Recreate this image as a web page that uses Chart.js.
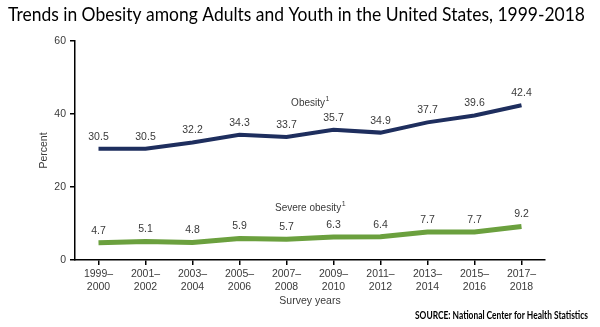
<!DOCTYPE html>
<html>
<head>
<meta charset="utf-8">
<script src="https://cdn.jsdelivr.net/npm/chart.js@4.4.1/dist/chart.umd.min.js"></script>
<style>
  html, body { margin: 0; padding: 0; background: #fff; }
  #wrap { width: 600px; height: 327px; position: relative; }
</style>
</head>
<body>
<div id="wrap"><canvas id="obesityChart" width="600" height="327"></canvas></div>
<script>
const surveyYears = [
    ['1999–', '2000'], ['2001–', '2002'], ['2003–', '2004'], ['2005–', '2006'], ['2007–', '2008'],
    ['2009–', '2010'], ['2011–', '2012'], ['2013–', '2014'], ['2015–', '2016'], ['2017–', '2018']
];
const obesity = [30.5, 30.5, 32.2, 34.3, 33.7, 35.7, 34.9, 37.7, 39.6, 42.4];
const severeObesity = [4.7, 5.1, 4.8, 5.9, 5.7, 6.3, 6.4, 7.7, 7.7, 9.2];
const yTicks = [0, 20, 40, 60];

const titleText = 'Trends in Obesity among Adults and Youth in the United States, 1999-2018';
const sourceText = 'SOURCE: National Center for Health Statistics';
const seriesNames = [
    { text: 'Obesity', note: '1', between: [4, 5], value: 43.0 },
    { text: 'Severe obesity', note: '1', between: [4, 5], value: 14.2 }
];

const NAVY = '#1e2e5e';
const GREEN = '#6ba03e';
const LABEL = '#3a3a3a';
const ARIAL = '"Liberation Sans", Arial, sans-serif';
const HEAD = 'Lato, "Open Sans", sans-serif';

// squeeze a line of text horizontally so it spans the given width
function drawSqueezed(ctx, text, x, y, width, align) {
    const w = ctx.measureText(text).width;
    const k = Math.min(1, width / w);
    ctx.save();
    ctx.textAlign = 'left';
    const left = align === 'right' ? x - w * k : x;
    ctx.translate(left, y);
    ctx.scale(k, 1);
    ctx.fillText(text, 0, 0);
    ctx.restore();
}

// value labels, series names, title and source line
const annotations = {
    id: 'annotations',
    afterDraw: function (chart) {
        const ctx = chart.ctx;
        const x = chart.scales.x;
        const y = chart.scales.y;
        ctx.save();

        ctx.fillStyle = LABEL;
        ctx.font = '10.5px ' + ARIAL;
        ctx.textAlign = 'center';
        ctx.textBaseline = 'middle';
        chart.data.datasets.forEach(function (ds, i) {
            chart.getDatasetMeta(i).data.forEach(function (pt, j) {
                ctx.fillText(ds.data[j].toFixed(1), pt.x, pt.y - 12);
            });
        });

        seriesNames.forEach(function (s) {
            const cx = (x.getPixelForValue(s.between[0]) + x.getPixelForValue(s.between[1])) / 2;
            const cy = y.getPixelForValue(s.value);
            ctx.font = '10px ' + ARIAL;
            const w = ctx.measureText(s.text).width;
            ctx.font = '7px ' + ARIAL;
            const nw = ctx.measureText(s.note).width;
            const left = cx - (w + nw) / 2;
            ctx.textAlign = 'left';
            ctx.font = '10px ' + ARIAL;
            ctx.fillText(s.text, left, cy);
            ctx.font = '7px ' + ARIAL;
            ctx.fillText(s.note, left + w + 0.5, cy - 4);
        });

        ctx.fillStyle = '#000';
        ctx.textBaseline = 'alphabetic';
        ctx.font = '20px ' + HEAD;
        drawSqueezed(ctx, titleText, 8, 21, 577, 'left');

        ctx.font = 'bold 12px ' + HEAD;
        drawSqueezed(ctx, sourceText, 588, 319, 173, 'right');
        ctx.restore();
    }
};

new Chart(document.getElementById('obesityChart'), {
    type: 'line',
    data: {
        labels: surveyYears,
        datasets: [{
            label: 'Obesity',
            data: obesity,
            borderColor: NAVY,
            borderWidth: 4,
            pointRadius: 0,
            tension: 0
        }, {
            label: 'Severe obesity',
            data: severeObesity,
            borderColor: GREEN,
            borderWidth: 5,
            pointRadius: 0,
            tension: 0
        }]
    },
    options: {
        responsive: false,
        animation: false,
        layout: { padding: { top: 41, right: 55, bottom: 0, left: 0 } },
        plugins: {
            legend: { display: false },
            tooltip: { enabled: false }
        },
        scales: {
            x: {
                offset: true,
                grid: { display: true, drawOnChartArea: false, tickLength: 5, color: '#000', lineWidth: 1.5 },
                border: { display: true, color: '#000', width: 1.5 },
                ticks: { color: LABEL, font: { family: ARIAL, size: 10.5 }, padding: 3, maxRotation: 0 },
                title: { display: true, text: 'Survey years', color: LABEL, font: { family: ARIAL, size: 10.5 }, padding: { top: 4, bottom: 20 } },
                afterFit: function (scale) { scale.height = 67; }
            },
            y: {
                min: 0,
                max: 60,
                afterBuildTicks: function (scale) { scale.ticks = yTicks.map(v => ({ value: v })); },
                grid: { display: true, drawOnChartArea: false, tickLength: 5, color: '#000', lineWidth: 1.5 },
                border: { display: true, color: '#000', width: 1.5 },
                ticks: { color: LABEL, font: { family: ARIAL, size: 10.5 }, padding: 4 },
                title: { display: true, text: 'Percent', color: LABEL, font: { family: ARIAL, size: 10.5 }, padding: { top: 38, bottom: 0 } },
                afterFit: function (scale) { scale.width = 75; }
            }
        }
    },
    plugins: [annotations]
});
</script>
</body>
</html>
